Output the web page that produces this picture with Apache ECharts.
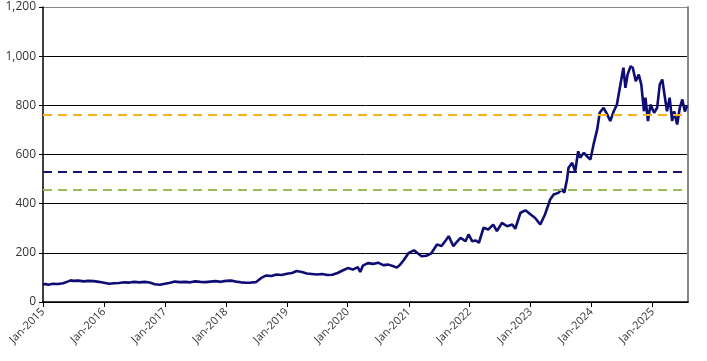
<!DOCTYPE html>
<html>
<head>
<meta charset="utf-8">
<script src="https://cdn.jsdelivr.net/npm/echarts@6/dist/echarts.min.js"></script>
<style>
html,body{margin:0;padding:0;background:#fff;}
#chart{width:707px;height:361px;}
</style>
</head>
<body>
<div id="chart"></div>
<script>
// ---- data ----
const dates = [
'2015-01-01','2015-01-16','2015-02-01','2015-03-01','2015-04-01','2015-05-01','2015-06-01','2015-06-16','2015-07-01','2015-08-01','2015-09-01','2015-10-01','2015-11-01','2015-12-01',
'2016-01-01','2016-02-01','2016-03-01','2016-04-01','2016-05-01','2016-06-01','2016-07-01','2016-08-01','2016-09-01','2016-10-01','2016-11-01','2016-12-01',
'2017-01-01','2017-02-01','2017-03-01','2017-04-01','2017-05-01','2017-06-01','2017-07-01','2017-08-01','2017-09-01','2017-10-01','2017-11-01','2017-12-01',
'2018-01-01','2018-02-01','2018-03-01','2018-04-01','2018-05-01','2018-06-01','2018-07-01','2018-08-01','2018-09-01','2018-10-01','2018-11-01','2018-12-01',
'2019-01-01','2019-02-01','2019-03-01','2019-04-01','2019-05-01','2019-06-01','2019-07-01','2019-08-01','2019-09-01','2019-10-01','2019-11-01','2019-12-01',
'2020-01-01','2020-02-01','2020-03-01','2020-03-16','2020-04-01','2020-05-01','2020-06-01','2020-07-01','2020-08-01','2020-09-01','2020-10-01','2020-10-22','2020-11-10','2020-12-01',
'2021-01-01','2021-02-01','2021-03-01','2021-03-19','2021-04-16','2021-05-16','2021-06-19','2021-07-16','2021-08-10','2021-08-28','2021-09-25','2021-10-16','2021-11-07','2021-12-07','2021-12-25',
'2022-01-16','2022-02-07','2022-02-25','2022-03-25','2022-04-22','2022-05-22','2022-06-13','2022-07-13','2022-08-13','2022-09-13','2022-10-01','2022-11-01','2022-12-01',
'2023-01-01','2023-01-28','2023-02-28','2023-03-28','2023-04-28','2023-05-19','2023-06-16','2023-07-07','2023-07-22','2023-08-07','2023-08-16','2023-09-07','2023-09-25','2023-10-13','2023-10-25','2023-11-16','2023-12-04','2023-12-25',
'2024-01-13','2024-02-04','2024-02-19','2024-03-13','2024-04-04','2024-04-22','2024-05-13','2024-06-01','2024-06-22','2024-07-10','2024-07-22','2024-08-04','2024-08-22','2024-09-04','2024-09-22','2024-10-10','2024-10-25','2024-11-10','2024-11-19','2024-12-04','2024-12-19',
'2025-01-10','2025-01-28','2025-02-13','2025-02-28','2025-03-13','2025-03-28','2025-04-13','2025-04-28','2025-05-10','2025-05-28','2025-06-13','2025-06-28','2025-07-13','2025-07-28'
];
const values = [
71,73,70,74,73,76,84,88,86,87,84,86,85,82,
78,74,76,77,80,79,82,80,82,79,72,70,
74,78,83,81,82,80,84,82,81,83,85,82,
86,87,83,80,78,79,81,98,108,106,112,110,
115,118,126,122,116,114,112,114,110,111,118,128,
138,132,142,122,148,158,155,160,150,152,145,140,152,170,
200,210,195,186,188,198,234,228,250,268,227,245,261,247,275,
247,250,241,302,295,315,288,322,308,315,298,363,373,
356,342,315,356,417,437,444,458,445,498,546,566,532,613,587,607,593,580,
641,702,770,790,763,736,776,803,885,953,871,925,959,953,898,925,885,776,831,736,803,
770,790,885,905,844,776,831,736,776,722,790,824,775,800
];
const refLevels = [760, 530, 458];
const refColors = ['#F5B21A', '#14146E', '#9BBB59'];
const monthNames = ['Jan','Feb','Mar','Apr','May','Jun','Jul','Aug','Sep','Oct','Nov','Dec'];
const xMin = '2015-01-01';
const xMax = '2025-08-01';
const yMin = 0, yMax = 1200, yStep = 200;

// ---- chart ----
const chart = echarts.init(document.getElementById('chart'), null, {renderer: 'canvas'});
const YEAR = 365 * 24 * 3600 * 1000;

const markData = refLevels.map((v, i) => ({
  yAxis: v,
  lineStyle: {color: refColors[i], type: [9, 6], width: 2}
}));

chart.setOption({
  animation: false,
  backgroundColor: '#fff',
  grid: {left: 43, right: 19, top: 7, bottom: 59, containLabel: false},
  xAxis: {
    type: 'time',
    min: xMin,
    max: xMax,
    minInterval: YEAR,
    maxInterval: YEAR,
    axisLine: {show: true, lineStyle: {color: '#000', width: 1.5}},
    axisTick: {show: true, length: 5, lineStyle: {color: '#000', width: 1}},
    splitLine: {show: false},
    axisLabel: {
      rotate: 45,
      margin: 8,
      hideOverlap: false,
      fontFamily: 'Open Sans', fontSize: 11, color: '#333',
      formatter: function (val) {
        const d = new Date(val);
        return monthNames[d.getMonth()] + '-' + d.getFullYear();
      }
    }
  },
  yAxis: [{
    type: 'value',
    min: yMin,
    max: yMax,
    interval: yStep,
    axisLine: {show: true, lineStyle: {color: '#000', width: 1.5}},
    axisTick: {show: true, length: 4, lineStyle: {color: '#000'}},
    splitLine: {show: true, lineStyle: {color: ['#000','#000','#000','#000','#000','#000','#888'], width: 1}},
    axisLabel: {
      margin: 7,
      fontFamily: 'Open Sans', fontSize: 12, color: '#333',
      formatter: v => v.toLocaleString('en-US')
    }
  }, {
    type: 'value',
    position: 'right',
    min: yMin,
    max: yMax,
    interval: yStep,
    axisLine: {show: true, lineStyle: {color: '#888', width: 2}},
    axisTick: {show: false},
    axisLabel: {show: false},
    splitLine: {show: false}
  }],
  series: [{
    type: 'line',
    data: dates.map((d, i) => [d, values[i]]),
    showSymbol: false,
    symbol: 'none',
    lineStyle: {color: '#0D0D73', width: 2.6},
    z: 3,
    markLine: {
      silent: true,
      symbol: 'none',
      label: {show: false},
      data: markData
    }
  }]
});
</script>
</body>
</html>
